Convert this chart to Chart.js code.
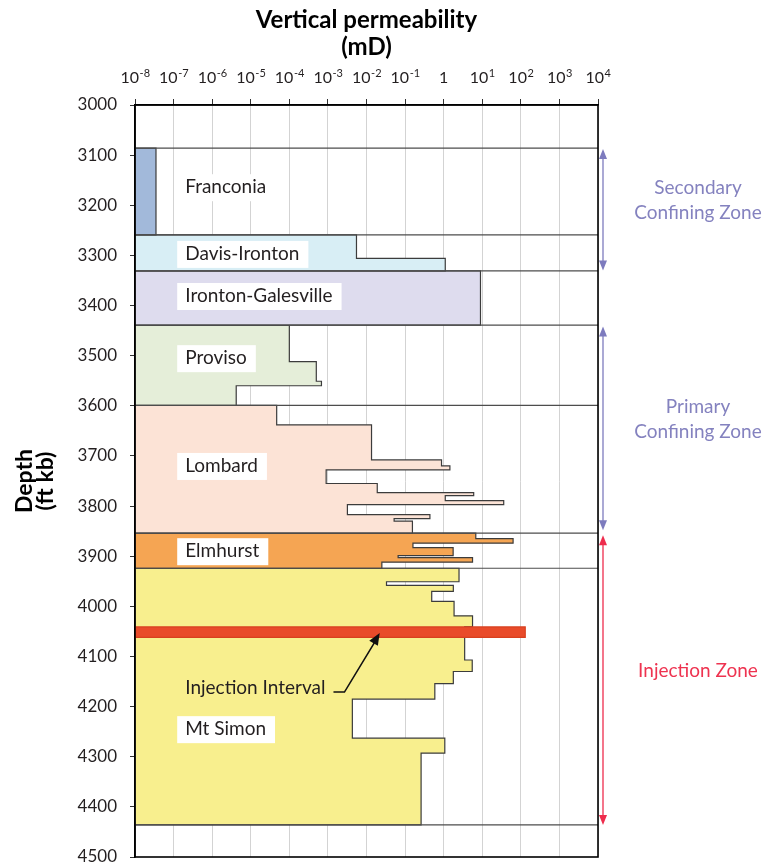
<!DOCTYPE html>
<html>
<head>
<meta charset="utf-8">
<title>Vertical permeability</title>
<script src="https://cdn.jsdelivr.net/npm/chart.js@4.4.1/dist/chart.umd.min.js"></script>
<style>
  html, body { margin: 0; padding: 0; background: #fff; }
</style>
</head>
<body>
<canvas id="graph" width="766" height="867"></canvas>
<script>
const PERM_MIN = 1e-8;
const PERM_MAX = 1e4;
const xTickExponents = [-8, -7, -6, -5, -4, -3, -2, -1, 0, 1, 2, 3, 4];
const DEPTH_MIN = 3000;
const DEPTH_MAX = 4500;
const DEPTH_STEP = 100;

// step profiles: depth boundaries (ft kb) and permeability of each step (mD)
const franconiaDepth = [3086, 3259];
const franconiaPerm = [3.5e-8];

const davisDepth = [3259, 3306, 3331];
const davisPerm = [0.0055, 1.1];

const irontonDepth = [3331, 3439];
const irontonPerm = [9];

const provisoDepth = [3439, 3512, 3551, 3560, 3599];
const provisoPerm = [1e-4, 5e-4, 6.8e-4, 4.2e-6];

const lombardDepth = [3599, 3638, 3708, 3720, 3728, 3755, 3773, 3779, 3789, 3797, 3817, 3825, 3830, 3854];
const lombardPerm = [4.7e-5, 0.0135, 0.88, 1.45, 9e-4, 0.019, 6, 1.1, 36, 0.0032, 0.44, 0.052, 0.155];

const elmhurstDepth = [3854, 3865, 3874, 3883, 3899, 3903, 3912, 3924];
const elmhurstPerm = [6.8, 63, 0.16, 1.76, 0.066, 5.6, 0.025];

const mtSimonDepth = [3924, 3951, 3958, 3970, 3990, 4019, 4041, 4062, 4107, 4130, 4154, 4185, 4263, 4293, 4436];
const mtSimonPerm = [2.5, 0.033, 1.78, 0.49, 1.86, 5.6, 3.5, 3.5, 5.5, 1.78, 0.59, 0.0043, 1.07, 0.26];

const injectionDepth = [4041, 4062];
const injectionPerm = [130];

const boundaryDepths = [3086, 3259, 3331, 3439, 3599, 3854, 3924, 4436];

const formationNames = ['Franconia', 'Davis-Ironton', 'Ironton-Galesville', 'Proviso', 'Lombard', 'Elmhurst', 'Mt Simon'];
const formationLabelDepths = [3164, 3297, 3381, 3505, 3720, 3890, 4245];

const zoneNames = [['Secondary', 'Confining Zone'], ['Primary', 'Confining Zone'], ['Injection Zone']];
const zoneTops = [3088, 3442, 3858];
const zoneBottoms = [3330, 3848, 4436];

// closed polygon: left axis -> step curve -> back to left axis
function stepShape(depths, perms) {
    const pts = [{ x: PERM_MIN, y: depths[0] }];
    perms.forEach((p, i) => {
        pts.push({ x: p, y: depths[i] }, { x: p, y: depths[i + 1] });
    });
    pts.push({ x: PERM_MIN, y: depths[depths.length - 1] });
    pts.push({ x: PERM_MIN, y: depths[0] });
    return pts;
}

function layer(depths, perms, color, outline) {
    return {
        data: stepShape(depths, perms),
        backgroundColor: color,
        borderColor: outline || '#3c3c3c',
        borderWidth: 1.2,
        fill: 'shape',
        pointRadius: 0,
        order: 3
    };
}

const datasets = [
    layer(injectionDepth, injectionPerm, '#e94b2a', '#d8401f'),
    layer(franconiaDepth, franconiaPerm, '#a2b9da'),
    layer(davisDepth, davisPerm, '#d8eef5'),
    layer(irontonDepth, irontonPerm, '#dedcee'),
    layer(provisoDepth, provisoPerm, '#e5eed9'),
    layer(lombardDepth, lombardPerm, '#fce3d6'),
    layer(elmhurstDepth, elmhurstPerm, '#f5a553'),
    layer(mtSimonDepth, mtSimonPerm, '#f8ef8e')
];
datasets[0].order = 1;

boundaryDepths.forEach(d => {
    datasets.push({
        data: [{ x: PERM_MIN, y: d }, { x: PERM_MAX, y: d }],
        borderColor: '#4d4d4d',
        borderWidth: 1.2,
        fill: false,
        pointRadius: 0,
        order: 2
    });
});

function arrowHead(ctx, x, y, angle, len, half) {
    ctx.beginPath();
    ctx.moveTo(x, y);
    ctx.lineTo(x - len * Math.cos(angle) + half * Math.sin(angle), y - len * Math.sin(angle) - half * Math.cos(angle));
    ctx.lineTo(x - len * Math.cos(angle) - half * Math.sin(angle), y - len * Math.sin(angle) + half * Math.cos(angle));
    ctx.closePath();
    ctx.fill();
}

const decor = {
    id: 'decor',
    afterDatasetsDraw(chart) {
        const { ctx, chartArea: a, scales: { x, y } } = chart;
        ctx.save();
        ctx.font = '19px Lato';
        ctx.textBaseline = 'middle';
        const lx = x.getPixelForValue(2e-7);
        formationNames.forEach((name, i) => {
            const ly = y.getPixelForValue(formationLabelDepths[i]);
            const w = ctx.measureText(name).width;
            ctx.fillStyle = '#fff';
            ctx.fillRect(lx - 8, ly - 13, w + 17, 27);
            ctx.fillStyle = '#231f20';
            ctx.fillText(name, lx, ly);
        });

        // injection interval callout
        const cy = y.getPixelForValue(4163);
        const label = 'Injection Interval';
        ctx.fillStyle = '#231f20';
        ctx.fillText(label, lx, cy);
        const tx = lx + ctx.measureText(label).width;
        const tipX = x.getPixelForValue(0.022);
        const tipY = y.getPixelForValue(4053);
        ctx.strokeStyle = '#111';
        ctx.lineWidth = 1.6;
        ctx.beginPath();
        ctx.moveTo(tx + 8, cy + 4);
        ctx.lineTo(tx + 19, cy + 4);
        ctx.lineTo(tipX - 3, tipY + 6);
        ctx.stroke();
        ctx.fillStyle = '#111';
        arrowHead(ctx, tipX, tipY, Math.atan2(tipY - (cy + 4), tipX - (tx + 19)), 12, 5);

        // frame
        ctx.strokeStyle = '#000';
        ctx.lineWidth = 1.6;
        ctx.strokeRect(a.left, a.top, a.right - a.left, a.bottom - a.top);
        ctx.restore();
    },
    afterDraw(chart) {
        const { ctx, chartArea: a, scales: { x, y } } = chart;
        ctx.save();
        // x tick labels with superscript exponents
        ctx.fillStyle = '#231f20';
        ctx.textBaseline = 'alphabetic';
        ctx.textAlign = 'left';
        xTickExponents.forEach(e => {
            const px = x.getPixelForValue(Math.pow(10, e));
            ctx.font = '16px Lato';
            if (e === 0) {
                const w = ctx.measureText('1').width;
                ctx.fillText('1', px - w / 2, 83);
                return;
            }
            const w1 = ctx.measureText('10').width;
            ctx.font = '11px Lato';
            const sup = String(e);
            const w2 = ctx.measureText(sup).width;
            const start = px - (w1 + w2) / 2;
            ctx.font = '16px Lato';
            ctx.fillText('10', start, 83);
            ctx.font = '11px Lato';
            ctx.fillText(sup, start + w1 + 0.5, 77);
        });

        // zone arrows on the right
        const ax = a.right + 5;
        ctx.textAlign = 'center';
        ctx.textBaseline = 'middle';
        ctx.font = '19px Lato';
        zoneNames.forEach((lines, i) => {
            const col = i === 2 ? '#ee2c4c' : '#7d7bbe';
            const y1 = y.getPixelForValue(zoneTops[i]);
            const y2 = y.getPixelForValue(zoneBottoms[i]);
            ctx.strokeStyle = col;
            ctx.fillStyle = col;
            ctx.lineWidth = 1.3;
            ctx.beginPath();
            ctx.moveTo(ax, y1 + 6);
            ctx.lineTo(ax, y2 - 6);
            ctx.stroke();
            arrowHead(ctx, ax, y1, -Math.PI / 2, 10, 4);
            arrowHead(ctx, ax, y2, Math.PI / 2, 10, 4);
            const mid = (y1 + y2) / 2 - 9;
            ctx.fillStyle = i === 2 ? '#ee3350' : '#8482bf';
            lines.forEach((t, k) => {
                ctx.fillText(t, a.right + 100, mid + (k - (lines.length - 1) / 2) * 25);
            });
        });
        ctx.restore();
    }
};

const chart = new Chart(document.getElementById('graph').getContext('2d'), {
    type: 'line',
    data: { datasets },
    options: {
        responsive: false,
        animation: false,
        events: [],
        layout: { padding: { left: 0, right: 168, top: 0, bottom: 10 } },
        plugins: { legend: { display: false }, tooltip: { enabled: false } },
        elements: { line: { tension: 0 }, point: { radius: 0 } },
        scales: {
            x: {
                type: 'logarithmic',
                position: 'top',
                min: PERM_MIN,
                max: PERM_MAX,
                afterBuildTicks: s => { s.ticks = xTickExponents.map(e => ({ value: Math.pow(10, e) })); },
                afterFit: s => { s.height = 105; s.paddingLeft = 0; s.paddingRight = 0; },
                ticks: { display: false },
                grid: { color: '#d3d3d3', lineWidth: 1, tickLength: 6, tickColor: '#333' },
                border: { color: '#000', width: 1.6 },
                title: {
                    display: true,
                    text: ['Vertical permeability', '(mD)'],
                    color: '#000',
                    font: { family: 'Lato', size: 24, weight: 'bold', lineHeight: 1.15 },
                    padding: { top: 6, bottom: 0 }
                }
            },
            y: {
                type: 'linear',
                reverse: true,
                min: DEPTH_MIN,
                max: DEPTH_MAX,
                afterFit: s => { s.width = 135; s.paddingTop = 0; s.paddingBottom = 0; },
                ticks: {
                    stepSize: DEPTH_STEP,
                    callback: v => String(v),
                    color: '#231f20',
                    font: { family: 'Lato', size: 17 },
                    padding: 13
                },
                grid: { drawOnChartArea: false, tickLength: 5, tickColor: '#333' },
                border: { color: '#000', width: 1.6 },
                title: {
                    display: true,
                    text: ['Depth', '(ft kb)'],
                    color: '#000',
                    font: { family: 'Lato', size: 23, weight: 'bold', lineHeight: 0.92 },
                    padding: { top: 14, bottom: 0 }
                }
            }
        }
    },
    plugins: [decor]
});
</script>
</body>
</html>
